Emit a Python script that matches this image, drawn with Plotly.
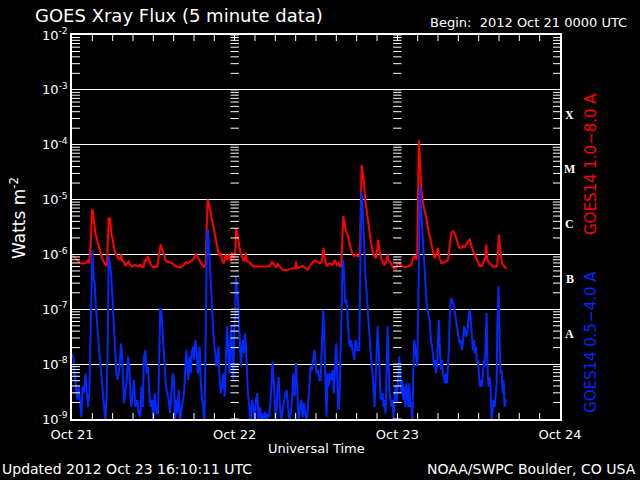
import datetime as dt
import math
import plotly.graph_objects as go

# ---------------- data (hours since 2012-10-21 00:00 UTC, log10 flux W/m^2) -------------
long_band = [  # GOES14 1.0-8.0 A (red)
    (0.00,-6.02),(0.49,-6.06),(0.98,-6.13),(1.48,-6.17),(1.97,-6.16),(2.36,-6.11),(2.56,-6.16),
    (2.80,-5.73),(2.95,-5.21),(3.05,-5.18),(3.25,-5.39),(3.44,-5.61),(3.69,-5.73),(3.93,-5.85),
    (4.18,-5.97),(4.43,-6.07),(4.67,-6.13),(4.92,-6.19),(5.16,-6.21),(5.31,-5.73),(5.41,-5.33),
    (5.61,-5.35),(5.80,-5.61),(6.00,-5.73),(6.24,-5.91),(6.49,-6.00),(6.79,-6.07),(7.03,-6.10),
    (7.28,-6.00),(7.38,-6.11),(7.62,-6.13),(7.87,-6.21),(8.11,-6.17),(8.36,-6.13),(8.60,-6.19),
    (8.85,-6.22),(9.10,-6.21),(9.34,-6.19),(9.59,-6.21),(9.83,-6.22),(10.08,-6.19),(10.33,-6.23),
    (10.57,-6.23),(10.72,-6.10),(10.92,-6.13),(11.21,-6.03),(11.41,-6.11),(11.65,-6.19),(11.90,-6.23),
    (12.29,-6.23),(12.59,-6.22),(12.84,-6.00),(13.08,-5.82),(13.33,-5.91),(13.58,-6.03),(13.82,-6.11),
    (14.07,-6.13),(14.31,-6.14),(14.56,-6.14),(14.81,-6.16),(15.05,-6.19),(15.30,-6.21),(15.54,-6.23),
    (15.79,-6.23),(16.04,-6.24),(16.28,-6.21),(16.53,-6.19),(16.77,-6.14),(17.02,-6.16),(17.27,-6.14),
    (17.51,-6.13),(17.76,-6.10),(18.00,-6.07),(18.25,-6.00),(18.50,-6.03),(18.74,-6.10),(18.99,-6.16),
    (19.23,-6.19),(19.48,-6.24),(19.73,-6.16),(19.87,-5.55),(20.02,-5.00),(20.22,-5.09),(20.46,-5.27),
    (20.71,-5.40),(20.96,-5.55),(21.20,-5.73),(21.45,-5.91),(21.69,-6.03),(21.94,-5.97),(22.19,-6.13),
    (22.43,-6.16),(22.68,-6.00),(22.92,-6.10),(23.17,-6.00),(23.42,-6.13),(23.66,-5.97),(23.91,-6.07),
    (24.10,-5.95),(24.22,-5.52),(24.44,-5.64),(24.68,-5.85),(24.93,-6.00),(25.17,-6.07),(25.42,-6.13),
    (25.67,-5.97),(25.81,-6.13),(26.16,-6.14),(26.65,-6.21),(27.14,-6.22),(27.63,-6.22),(28.13,-6.23),
    (28.62,-6.23),(29.11,-6.22),(29.50,-6.14),(29.85,-6.19),(30.09,-6.23),(30.34,-6.17),(30.59,-6.21),
    (30.83,-6.25),(31.08,-6.28),(31.57,-6.29),(32.06,-6.27),(32.55,-6.25),(32.95,-6.25),(33.05,-6.13),
    (33.19,-6.25),(33.54,-6.24),(34.03,-6.21),(34.52,-6.25),(34.77,-6.28),(35.01,-6.22),(35.41,-6.17),
    (35.75,-6.11),(36.10,-6.13),(36.49,-6.16),(36.88,-6.13),(37.12,-5.88),(37.32,-6.10),(37.61,-6.22),
    (37.96,-6.16),(38.45,-6.19),(38.79,-6.10),(39.04,-6.19),(39.29,-6.16),(39.53,-6.22),(39.73,-6.22),
    (39.93,-5.73),(40.02,-5.30),(40.22,-5.43),(40.42,-5.58),(40.66,-5.64),(40.91,-5.79),(41.16,-5.91),
    (41.40,-6.00),(41.65,-6.03),(41.89,-6.00),(42.14,-6.03),(42.39,-6.03),(42.53,-5.73),(42.73,-4.37),
    (42.88,-4.48),(43.07,-4.69),(43.27,-5.00),(43.47,-5.21),(43.66,-5.43),(43.86,-5.61),(44.11,-5.79),
    (44.35,-5.94),(44.60,-6.03),(44.85,-6.07),(44.99,-5.97),(45.14,-5.73),(45.34,-5.91),(45.58,-6.07),
    (45.83,-6.13),(46.08,-6.19),(46.32,-6.16),(46.57,-6.00),(46.72,-6.10),(47.06,-6.16),(47.40,-6.25),
    (47.80,-6.25),(48.04,-6.16),(48.34,-6.16),(48.58,-6.21),(49.07,-6.23),(49.57,-6.22),(50.06,-6.19),
    (50.30,-6.07),(50.55,-6.02),(50.80,-6.10),(50.94,-5.97),(51.09,-4.51),(51.19,-3.92),(51.34,-4.27),
    (51.53,-4.82),(51.78,-5.06),(52.03,-5.18),(52.27,-5.33),(52.52,-5.52),(52.76,-5.67),(53.01,-5.85),
    (53.26,-5.94),(53.50,-6.07),(53.75,-6.00),(53.99,-5.88),(54.24,-6.07),(54.49,-6.16),(54.98,-6.14),
    (55.47,-6.10),(55.72,-5.85),(55.96,-5.61),(56.21,-5.58),(56.45,-5.61),(56.70,-5.70),(56.95,-5.82),
    (57.19,-5.88),(57.44,-5.88),(57.68,-5.85),(57.93,-5.86),(58.18,-5.82),(58.42,-5.76),(58.67,-5.73),
    (58.91,-5.85),(59.16,-5.94),(59.41,-6.00),(59.65,-6.07),(59.90,-6.16),(60.14,-6.21),(60.48,-6.21),
    (60.73,-6.13),(60.97,-6.07),(61.12,-5.82),(61.27,-6.07),(61.46,-6.14),(61.86,-6.19),(62.10,-6.22),
    (62.35,-6.22),(62.60,-6.22),(62.74,-6.19),(62.89,-5.67),(62.99,-5.64),(63.14,-5.85),(63.24,-6.00),
    (63.43,-6.16),(63.73,-6.21),(63.92,-6.24),(64.17,-6.25),
]

short_band = [  # GOES14 0.5-4.0 A (blue)
    (0.00,-7.80),(0.25,-7.92),(0.39,-8.17),(0.59,-8.44),(0.79,-8.65),(0.98,-8.41),(1.18,-8.78),
    (1.38,-8.96),(1.57,-8.41),(1.77,-8.53),(1.97,-8.17),(2.16,-8.41),(2.36,-8.78),(2.56,-8.53),
    (2.71,-7.68),(2.85,-6.64),(3.00,-5.91),(3.20,-6.46),(3.35,-6.52),(3.49,-6.89),(3.69,-7.25),
    (3.84,-7.56),(4.03,-7.80),(4.23,-8.04),(4.43,-8.35),(4.62,-8.53),(4.77,-8.78),(4.92,-9.05),
    (5.12,-8.53),(5.26,-7.68),(5.41,-6.03),(5.61,-6.16),(5.80,-6.40),(6.00,-6.95),(6.20,-7.37),
    (6.40,-7.80),(6.54,-8.17),(6.69,-8.29),(6.89,-8.17),(7.08,-7.92),(7.23,-7.62),(7.38,-7.80),
    (7.53,-8.17),(7.67,-8.71),(7.87,-8.53),(8.07,-8.29),(8.27,-7.86),(8.46,-8.04),(8.61,-8.53),
    (8.76,-8.78),(8.95,-8.53),(9.15,-8.29),(9.35,-8.78),(9.59,-8.65),(9.84,-8.90),(10.09,-8.96),
    (10.23,-8.41),(10.43,-8.78),(10.63,-7.86),(10.82,-7.74),(11.02,-8.17),(11.22,-8.04),(11.41,-8.53),
    (11.61,-8.78),(11.81,-8.65),(12.00,-9.05),(12.20,-8.53),(12.49,-8.90),(12.69,-8.90),(12.89,-7.68),
    (13.03,-6.98),(13.18,-7.01),(13.33,-7.31),(13.48,-7.56),(13.67,-7.80),(13.87,-8.41),(14.07,-8.53),
    (14.26,-8.65),(14.46,-8.90),(14.66,-8.53),(14.86,-8.17),(15.05,-8.29),(15.20,-9.05),(15.40,-8.65),
    (15.54,-8.90),(15.74,-8.47),(15.94,-9.05),(16.13,-8.84),(16.33,-8.65),(16.53,-8.53),(16.72,-8.11),
    (16.87,-7.74),(17.02,-8.04),(17.17,-8.29),(17.32,-7.86),(17.51,-8.17),(17.66,-7.80),(17.86,-7.68),
    (18.00,-7.92),(18.20,-7.56),(18.40,-7.80),(18.55,-8.17),(18.69,-8.11),(18.84,-7.68),(18.99,-8.29),
    (19.18,-8.65),(19.38,-8.78),(19.53,-9.05),(19.68,-7.92),(19.78,-6.83),(19.92,-5.61),(20.07,-5.55),
    (20.22,-5.85),(20.37,-6.34),(20.56,-6.70),(20.71,-7.13),(20.86,-7.44),(21.01,-7.68),(21.15,-7.80),
    (21.30,-8.04),(21.45,-7.92),(21.60,-7.68),(21.74,-8.17),(21.94,-8.53),(22.14,-8.41),(22.33,-8.17),
    (22.53,-8.59),(22.73,-7.56),(22.87,-7.31),(23.02,-7.68),(23.22,-8.17),(23.37,-7.56),(23.51,-7.31),
    (23.66,-7.92),(23.81,-8.29),(23.96,-7.31),(24.10,-7.07),(24.19,-6.40),(24.39,-6.64),(24.58,-7.07),
    (24.78,-7.80),(24.93,-8.04),(25.08,-7.68),(25.22,-7.56),(25.37,-7.80),(25.52,-7.44),(25.67,-7.68),
    (25.81,-8.17),(25.96,-8.53),(26.16,-8.78),(26.35,-9.05),(26.55,-8.65),(26.75,-8.78),(26.95,-9.05),
    (27.14,-8.65),(27.34,-8.53),(27.54,-9.05),(27.73,-8.78),(27.93,-9.05),(28.13,-8.90),(28.32,-9.05),
    (28.52,-8.87),(28.72,-9.05),(28.91,-8.90),(29.11,-8.96),(29.31,-8.65),(29.45,-8.17),(29.60,-7.95),
    (29.75,-8.29),(29.90,-8.65),(30.09,-9.05),(30.29,-8.53),(30.49,-8.23),(30.68,-8.78),(30.88,-9.05),
    (31.08,-8.84),(31.27,-8.65),(31.47,-8.53),(31.67,-8.47),(31.86,-8.71),(32.06,-9.05),(32.26,-8.90),
    (32.46,-8.65),(32.65,-8.17),(32.85,-8.59),(33.05,-7.98),(33.24,-8.53),(33.44,-9.05),(33.64,-8.78),
    (33.83,-8.65),(34.03,-8.96),(34.23,-8.71),(34.42,-8.90),(34.62,-9.05),(34.82,-8.78),(35.01,-8.29),
    (35.21,-8.04),(35.41,-8.11),(35.60,-7.86),(35.75,-7.74),(35.90,-7.92),(36.10,-8.17),(36.29,-8.11),
    (36.49,-8.29),(36.68,-8.29),(36.88,-7.56),(37.07,-7.01),(37.22,-7.56),(37.37,-8.41),(37.56,-8.96),
    (37.71,-8.17),(37.86,-8.41),(38.06,-8.17),(38.25,-8.29),(38.45,-8.11),(38.65,-8.53),(38.84,-7.92),
    (38.99,-7.62),(39.14,-8.29),(39.29,-8.84),(39.43,-8.71),(39.58,-8.17),(39.73,-7.31),(39.88,-6.34),
    (40.02,-6.10),(40.17,-6.46),(40.32,-6.89),(40.47,-6.83),(40.61,-6.95),(40.76,-7.37),(40.91,-7.62),
    (41.06,-7.68),(41.21,-7.56),(41.35,-7.74),(41.50,-7.80),(41.65,-7.92),(41.80,-7.56),(41.94,-7.62),
    (42.09,-7.74),(42.24,-7.74),(42.39,-7.74),(42.53,-6.34),(42.68,-4.85),(42.83,-5.00),(42.98,-5.36),
    (43.12,-5.85),(43.27,-6.34),(43.42,-6.64),(43.57,-6.83),(43.71,-7.13),(43.86,-7.56),(44.06,-7.80),
    (44.20,-8.04),(44.35,-8.17),(44.50,-8.53),(44.65,-8.78),(44.80,-8.29),(44.94,-7.80),(45.09,-7.31),
    (45.24,-7.68),(45.39,-8.17),(45.53,-8.59),(45.68,-8.65),(45.83,-8.53),(45.98,-8.78),(46.12,-8.65),
    (46.27,-8.90),(46.42,-8.17),(46.57,-7.31),(46.72,-8.04),(46.86,-8.53),(47.01,-8.65),(47.16,-8.78),
    (47.31,-8.65),(47.45,-9.05),(47.60,-8.53),(47.75,-8.41),(47.90,-8.71),(48.09,-8.17),(48.29,-7.86),
    (48.43,-8.17),(48.58,-8.53),(48.73,-8.29),(48.88,-8.65),(49.02,-8.41),(49.17,-8.78),(49.32,-8.35),
    (49.47,-8.59),(49.62,-8.78),(49.76,-8.35),(49.91,-8.78),(50.06,-8.71),(50.21,-9.05),(50.35,-8.17),
    (50.50,-7.56),(50.65,-7.68),(50.80,-7.86),(50.94,-8.04),(51.09,-6.95),(51.19,-5.85),(51.34,-4.76),
    (51.48,-5.12),(51.63,-5.49),(51.78,-5.85),(51.93,-6.22),(52.07,-6.46),(52.22,-6.70),(52.37,-6.95),
    (52.52,-7.07),(52.67,-7.13),(52.81,-7.25),(52.96,-7.56),(53.11,-7.68),(53.26,-7.80),(53.40,-8.04),
    (53.55,-7.92),(53.70,-8.17),(53.85,-8.04),(53.99,-7.56),(54.14,-7.19),(54.29,-7.80),(54.44,-8.10),
    (54.58,-7.92),(54.73,-8.17),(54.88,-8.23),(55.03,-8.35),(55.17,-8.17),(55.32,-8.35),(55.47,-8.04),
    (55.62,-7.68),(55.76,-7.07),(55.91,-6.80),(56.06,-6.83),(56.21,-6.89),(56.35,-6.95),(56.50,-7.07),
    (56.65,-7.19),(56.80,-7.31),(56.94,-7.50),(57.09,-7.56),(57.24,-7.62),(57.39,-7.56),(57.53,-7.74),
    (57.68,-7.62),(57.83,-7.31),(57.98,-7.37),(58.12,-7.50),(58.27,-7.44),(58.42,-7.31),(58.57,-7.07),
    (58.72,-7.01),(58.86,-7.31),(59.01,-7.56),(59.16,-7.74),(59.31,-7.56),(59.45,-7.80),(59.60,-7.68),
    (59.75,-7.98),(59.90,-7.92),(60.04,-8.17),(60.19,-8.41),(60.39,-8.29),(60.48,-8.41),(60.63,-8.17),
    (60.78,-7.92),(60.92,-8.04),(61.07,-7.56),(61.17,-7.07),(61.32,-8.10),(61.46,-8.41),(61.61,-8.23),
    (61.76,-8.41),(61.91,-9.05),(62.05,-8.78),(62.20,-8.65),(62.35,-8.78),(62.50,-8.53),(62.65,-8.35),
    (62.74,-7.37),(62.84,-6.95),(62.94,-6.58),(63.04,-7.31),(63.14,-7.68),(63.24,-8.17),(63.38,-8.11),
    (63.53,-8.53),(63.68,-8.29),(63.82,-8.78),(63.97,-8.65),(64.12,-8.65),
]

day_labels = ["Oct 21", "Oct 22", "Oct 23", "Oct 24"]
decade_exponents = [-9, -8, -7, -6, -5, -4, -3, -2]
flare_classes = ["A", "B", "C", "M", "X"]
flare_class_log_mid = [-7.5, -6.5, -5.5, -4.5, -3.5]
minor_tick_hours = 3

start = dt.datetime(2012, 10, 21)
day_dates = [start + dt.timedelta(days=i) for i in range(len(day_labels))]


def to_xy(series):
    xs = [start + dt.timedelta(hours=h) for h, _ in series]
    ys = [10 ** v for _, v in series]
    return xs, ys


red_x, red_y = to_xy(long_band)
blue_x, blue_y = to_xy(short_band)

WHITE = "white"
RED = "#ff0000"
BLUE = "#0028ff"
FONT = "DejaVu Sans"

PLOT_W = 640 - 72 - 80
PLOT_H = 480 - 35 - 61
Y_LO, Y_HI = decade_exponents[0], decade_exponents[-1]
total_hours = (day_dates[-1] - day_dates[0]).total_seconds() / 3600.0
hours_per_px = total_hours / PLOT_W
decades_per_px = (Y_HI - Y_LO) / PLOT_H

fig = go.Figure()
fig.add_trace(go.Scatter(x=red_x, y=red_y, mode="lines",
                         line=dict(color=RED, width=2), hoverinfo="skip", showlegend=False))
fig.add_trace(go.Scatter(x=blue_x, y=blue_y, mode="lines",
                         line=dict(color=BLUE, width=2), hoverinfo="skip", showlegend=False))

# ---- tick marks (minor log ticks on y sides, 3-hourly ticks on x sides) ----
ytick_minor = [m * 10.0 ** k for k in range(Y_LO, Y_HI) for m in range(2, 10)]
tx, ty = [], []
left_end = start + dt.timedelta(hours=8 * hours_per_px)
right_end = day_dates[-1] - dt.timedelta(hours=7 * hours_per_px)
for v in ytick_minor:
    tx += [start, left_end, None, day_dates[-1], right_end, None]
    ty += [v, v, None, v, v, None]
n_minor = int(total_hours // minor_tick_hours)
bot_top = 10 ** (Y_LO + 6 * decades_per_px)
top_bot = 10 ** (Y_HI - 6 * decades_per_px)
for i in range(1, n_minor):
    if (i * minor_tick_hours) % 24 == 0:
        continue
    t = start + dt.timedelta(hours=i * minor_tick_hours)
    tx += [t, t, None, t, t, None]
    ty += [10.0 ** Y_LO, bot_top, None, 10.0 ** Y_HI, top_bot, None]
fig.add_trace(go.Scatter(x=tx, y=ty, mode="lines", line=dict(color=WHITE, width=1),
                         connectgaps=False, hoverinfo="skip", showlegend=False))

# log-tick marks drawn along interior day boundaries
all_log_vals = [m * 10.0 ** k for k in range(Y_LO, Y_HI) for m in range(1, 10)] + [10.0 ** Y_HI]
for d in day_dates[1:-1]:
    fig.add_trace(go.Scatter(x=[d] * len(all_log_vals), y=all_log_vals, mode="markers",
                             marker=dict(symbol="line-ew", size=6,
                                         line=dict(color=WHITE, width=1)),
                             hoverinfo="skip", showlegend=False))

major_vals = [10.0 ** e for e in decade_exponents]
major_text = ["10<sup>%d</sup>" % e for e in decade_exponents]

fig.update_layout(
    width=640, height=480,
    margin=dict(l=72, r=80, t=35, b=61),
    paper_bgcolor="black", plot_bgcolor="black",
    font=dict(family=FONT, color=WHITE, size=13),
    xaxis=dict(
        type="date",
        range=[day_dates[0], day_dates[-1]],
        tickmode="array", tickvals=day_dates, ticktext=day_labels,
        ticks="inside", ticklen=6, tickcolor=WHITE, tickwidth=1,
        showline=True, linecolor=WHITE, linewidth=1.5, mirror="all",
        showgrid=False, zeroline=False,
        tickfont=dict(size=13, color=WHITE, family=FONT),
        ticklabelstandoff=3,
    ),
    yaxis=dict(
        type="log",
        range=[Y_LO, Y_HI],
        tickmode="array", tickvals=major_vals, ticktext=major_text,
        ticks="inside", ticklen=9, tickcolor=WHITE, tickwidth=1,
        showline=True, linecolor=WHITE, linewidth=1.5, mirror="all",
        showgrid=True, gridcolor=WHITE, gridwidth=1.2, zeroline=False,
        tickfont=dict(size=13, color=WHITE, family=FONT),
    ),
)

ann = []
ann.append(dict(text="GOES Xray Flux (5 minute data)", xref="paper", yref="paper",
                x=-0.08, y=1.05, xanchor="left", yanchor="middle", showarrow=False,
                font=dict(size=18, color=WHITE, family=FONT)))
ann.append(dict(text="Begin:  2012 Oct 21 0000 UTC", xref="paper", yref="paper",
                x=1.1414, y=1.032, xanchor="right", yanchor="middle", showarrow=False,
                font=dict(size=13, color=WHITE, family=FONT)))
ann.append(dict(text="Watts m<sup>-2</sup>", xref="paper", yref="paper", textangle=-90,
                x=-0.111, y=0.523, xanchor="center", yanchor="middle", showarrow=False,
                font=dict(size=17, color=WHITE, family=FONT)))
ann.append(dict(text="Universal Time", xref="paper", yref="paper",
                x=0.5, y=-0.078, xanchor="center", yanchor="middle", showarrow=False,
                font=dict(size=13, color=WHITE, family=FONT)))
ann.append(dict(text="Updated 2012 Oct 23 16:10:11 UTC", xref="paper", yref="paper",
                x=-0.1475, y=-0.13, xanchor="left", yanchor="middle", showarrow=False,
                font=dict(size=14, color=WHITE, family=FONT)))
ann.append(dict(text="NOAA/SWPC Boulder, CO USA", xref="paper", yref="paper",
                x=1.1598, y=-0.13, xanchor="right", yanchor="middle", showarrow=False,
                font=dict(size=14, color=WHITE, family=FONT)))
ann.append(dict(text="GOES14 1.0\u22128.0 A", xref="paper", yref="paper", textangle=-90,
                x=1.0635, y=0.664, xanchor="center", yanchor="middle", showarrow=False,
                font=dict(size=15, color=RED, family=FONT)))
ann.append(dict(text="GOES14 0.5\u22124.0 A", xref="paper", yref="paper", textangle=-90,
                x=1.0635, y=0.2005, xanchor="center", yanchor="middle", showarrow=False,
                font=dict(size=15, color=BLUE, family=FONT)))
for cls, ymid in zip(flare_classes, flare_class_log_mid):
    ann.append(dict(text="<b>%s</b>" % cls, xref="paper", yref="y",
                    x=1.0195, y=ymid + 0.05, xanchor="center", yanchor="middle", showarrow=False,
                    font=dict(size=12, color=WHITE, family="Liberation Serif")))
fig.update_layout(annotations=ann)

fig.write_html("out.html")
